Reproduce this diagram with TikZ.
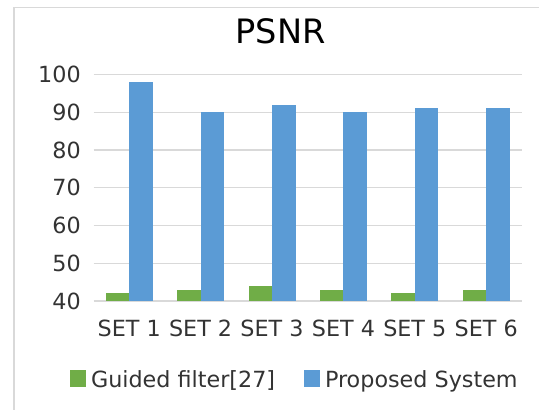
\documentclass[tikz,border=0pt]{standalone}
\usepackage{fontspec}
\setmainfont{DejaVu Sans}
\usepackage{xcolor}
\usepackage{tikz}
\usetikzlibrary{positioning}

\definecolor{guidedgreen}{HTML}{70AD47}
\definecolor{proposedblue}{HTML}{5B9BD5}
\definecolor{gridgray}{HTML}{D9D9D9}
\definecolor{labelgray}{HTML}{333333}

\begin{document}
\begin{tikzpicture}[
  x=0.75pt, y=0.75pt,
  % ---- text --------------------------------------------------------------
  charttitle/.style={font=\fontsize{25.2}{29}\selectfont, text=black, inner sep=0pt},
  ticklabel/.style={font=\fontsize{16.7}{19}\selectfont, text=labelgray, inner sep=0pt},
  legendtext/.style={ticklabel, anchor=base west},
  % ---- bars and frame ----------------------------------------------------
  gbar/.style={fill=guidedgreen},
  pbar/.style={fill=proposedblue},
  keybox/.style={minimum size=12.5pt, inner sep=0pt, anchor=south west},
  gridline/.style={draw=gridgray, line width=1pt},
  frame/.style={draw=gridgray, line width=0.9pt},
]

\useasboundingbox (0,0) rectangle (539,410);

% ---- chart frame (left and top edge only show) ----------------------------
\draw[frame] (14,0) |- (539,402.7);

% ---- title ------------------------------------------------------------------
\node[charttitle] (title) at (280.7,378.7) {PSNR};

% ---- value axis: gridlines + labels, 40 .. 100 ------------------------------
% value v sits at y = 109 + (v-40)*3.775
\foreach \v in {40,50,...,100}
{
  \draw[gridline] (93.5,{109+(\v-40)*3.775}) -- (521.8,{109+(\v-40)*3.775});
  \node[ticklabel, anchor=east] (ytick\v) at (81,{109+(\v-40)*3.775}) {\v};
}

% ---- bars: set / guided filter / proposed system ----------------------------
\foreach \i/\g/\p in {1/42/98, 2/43/90, 3/44/92, 4/43/90, 5/42/91, 6/43/91}
{
  \pgfmathsetmacro{\cx}{93.5+(\i-0.5)*71.4}
  \fill[gbar] ({\cx-23.5},109) rectangle (\cx,{109+(\g-40)*3.775});
  \fill[pbar] (\cx,109) rectangle ({\cx+23.5},{109+(\p-40)*3.775});
  \node[ticklabel] (set\i) at (\cx,82) {SET \i};
}

% ---- legend -----------------------------------------------------------------
\node[keybox, fill=guidedgreen] (gkey) at (69.3,22.7) {};
\node[legendtext] (gtext) at ([xshift=3.2pt]gkey.south east) {Guided filter[27]};
\node[keybox, fill=proposedblue] (pkey) at (303.3,22.7) {};
\node[legendtext] (ptext) at ([xshift=3.2pt]pkey.south east) {Proposed System};

\end{tikzpicture}
\end{document}
